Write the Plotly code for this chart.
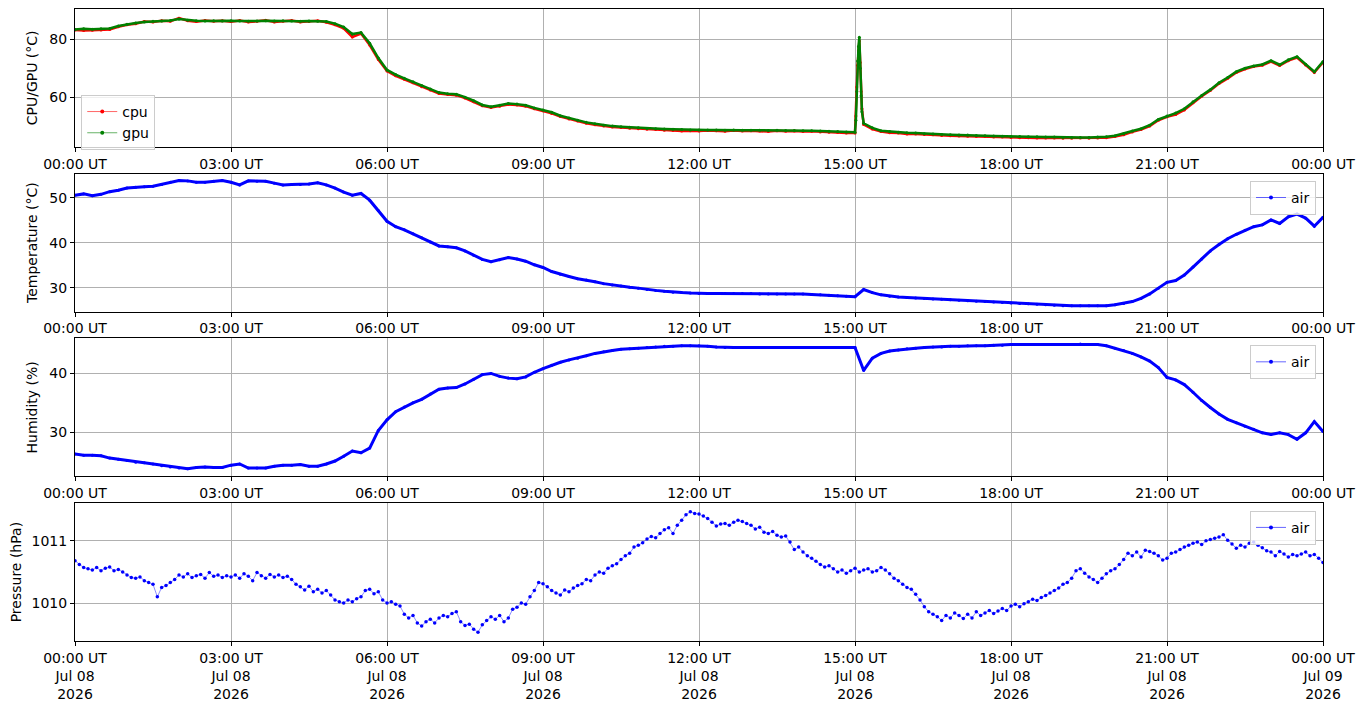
import pandas as pd
import plotly.graph_objects as go
from plotly.subplots import make_subplots

DAY = "2026-07-08"

# 10-minute readings, 00:00 .. 24:00 (one row per hour)
gpu = [
    83.4, 83.6, 83.5, 83.6, 83.7, 84.6,
    85.2, 85.6, 86.0, 86.2, 86.3, 86.5,
    87.0, 86.6, 86.4, 86.3, 86.4, 86.3,
    86.4, 86.3, 86.2, 86.3, 86.4, 86.3,
    86.4, 86.3, 86.2, 86.3, 86.2, 86.1,
    85.4, 84.2, 81.8, 82.3, 78.6, 73.5,
    69.4, 67.8, 66.5, 65.3, 64.0, 62.8,
    61.6, 61.2, 61.0, 60.0, 58.8, 57.3,
    56.7, 57.2, 57.8, 57.6, 57.2, 56.3,
    55.6, 54.8, 53.6, 52.8, 52.0, 51.3,
    50.8, 50.3, 50.0, 49.8, 49.6, 49.4,
    49.2, 49.1, 49.0, 48.9, 48.8, 48.7,
    48.7, 48.7, 48.7, 48.6, 48.7, 48.6,
    48.6, 48.6, 48.5, 48.6, 48.5, 48.5,
    48.4, 48.4, 48.3, 48.2, 48.1, 48.0,
    47.9, 51.0, 49.4, 48.4, 48.1, 47.9,
    47.7, 47.6, 47.4, 47.3, 47.1, 47.0,
    46.9, 46.9, 46.8, 46.7, 46.6, 46.5,
    46.4, 46.4, 46.3, 46.3, 46.2, 46.2,
    46.1, 46.1, 46.1, 46.1, 46.2, 46.3,
    46.7, 47.4, 48.3, 49.1, 50.3, 52.3,
    53.5, 54.5, 56.0, 58.4, 60.6, 62.6,
    65.0, 66.8, 68.8, 70.0, 70.8, 71.3,
    72.6, 71.2, 72.9, 74.0, 71.4, 68.8,
    72.3,
]
cpu = [
    83.2, 83.0, 83.1, 83.2, 83.4, 84.3,
    85.0, 85.4, 86.1, 86.0, 86.4, 86.2,
    87.3, 86.4, 86.1, 86.5, 86.2, 86.4,
    86.1, 86.5, 86.0, 86.2, 86.6, 86.0,
    86.2, 86.5, 86.0, 86.1, 86.4, 85.9,
    85.0, 83.8, 80.8, 82.0, 78.0, 73.0,
    69.0, 67.4, 66.2, 65.0, 63.6, 62.5,
    61.3, 60.9, 60.7, 59.7, 58.4, 57.0,
    56.4, 56.9, 57.5, 57.3, 56.9, 56.0,
    55.3, 54.4, 53.3, 52.5, 51.8, 51.0,
    50.5, 50.0, 49.7, 49.5, 49.3, 49.1,
    48.9, 48.8, 48.6, 48.5, 48.3, 48.4,
    48.3, 48.5, 48.4, 48.2, 48.5, 48.3,
    48.4, 48.3, 48.1, 48.4, 48.2, 48.3,
    48.1, 48.2, 48.0, 47.9, 47.8, 47.6,
    47.6, 50.6, 49.0, 48.1, 47.7, 47.6,
    47.3, 47.3, 47.1, 47.0, 46.8, 46.7,
    46.6, 46.5, 46.4, 46.4, 46.2, 46.2,
    46.1, 46.0, 46.0, 45.9, 45.9, 45.9,
    45.8, 45.8, 45.9, 45.8, 45.9, 46.0,
    46.4, 47.0, 48.0, 48.8, 50.0, 52.0,
    53.2, 54.0, 55.6, 58.1, 60.3, 62.3,
    64.7, 66.5, 68.5, 69.7, 70.6, 71.0,
    72.3, 70.9, 72.6, 73.7, 71.1, 68.5,
    72.0,
]
# short CPU/GPU spike just after 15:00 (minutes since midnight)
spike_min = [901, 902, 903, 904, 905, 906, 907, 908]
gpu_spike = [52.0, 62.0, 72.5, 77.5, 80.7, 70.0, 60.5, 55.0]
cpu_spike = [53.5, 63.5, 71.0, 76.0, 79.5, 72.0, 62.0, 56.0]

temp = [
    50.6, 50.9, 50.5, 50.8, 51.4, 51.7,
    52.2, 52.4, 52.5, 52.6, 53.0, 53.5,
    53.9, 53.8, 53.5, 53.5, 53.7, 53.9,
    53.5, 52.9, 53.8, 53.7, 53.7, 53.3,
    52.9, 53.0, 53.0, 53.1, 53.4, 52.9,
    52.2, 51.3, 50.6, 51.0, 49.5, 47.2,
    44.8, 43.6, 42.9, 42.0, 41.1, 40.2,
    39.3, 39.1, 38.9, 38.2, 37.2, 36.3,
    35.8, 36.2, 36.7, 36.4, 35.9, 35.1,
    34.5, 33.6, 33.0, 32.5, 32.0, 31.7,
    31.3, 30.9, 30.6, 30.4, 30.1, 29.9,
    29.6, 29.4, 29.2, 29.0, 28.9, 28.8,
    28.7, 28.7, 28.7, 28.7, 28.7, 28.7,
    28.7, 28.6, 28.6, 28.6, 28.6, 28.6,
    28.6, 28.5, 28.4, 28.3, 28.2, 28.1,
    28.0, 29.6, 28.9, 28.4, 28.1, 27.9,
    27.8, 27.7, 27.6, 27.5, 27.4, 27.3,
    27.2, 27.1, 27.0, 26.9, 26.8, 26.7,
    26.6, 26.5, 26.4, 26.3, 26.2, 26.1,
    26.0, 26.0, 26.0, 26.0, 26.0, 26.0,
    26.2, 26.5, 26.9, 27.6, 28.6, 29.9,
    31.2, 31.6, 32.8, 34.6, 36.4, 38.2,
    39.6, 40.9, 41.9, 42.8, 43.6, 44.0,
    45.1, 44.3, 45.8, 46.4, 45.5, 43.7,
    45.7,
]
humidity = [
    26.3, 26.1, 26.1, 26.0, 25.6, 25.4,
    25.2, 24.9, 24.8, 24.6, 24.3, 24.1,
    23.9, 23.8, 24.0, 24.1, 24.0, 24.0,
    24.4, 24.6, 23.9, 23.9, 23.9, 24.2,
    24.4, 24.4, 24.5, 24.2, 24.2, 24.6,
    25.1, 25.9, 26.8, 26.5, 27.3, 30.3,
    32.1, 33.5, 34.3, 35.0, 35.6, 36.5,
    37.3, 37.5, 37.6, 38.2, 39.0, 39.8,
    40.0, 39.5, 39.2, 39.1, 39.4, 40.2,
    40.8, 41.4, 41.9, 42.3, 42.6, 43.0,
    43.4, 43.7, 43.9, 44.1, 44.2, 44.3,
    44.4, 44.5, 44.6, 44.6, 44.7, 44.7,
    44.7, 44.6, 44.5, 44.4, 44.4, 44.4,
    44.4, 44.4, 44.4, 44.4, 44.4, 44.4,
    44.4, 44.4, 44.4, 44.4, 44.4, 44.4,
    44.4, 40.5, 42.6, 43.4, 43.8, 44.0,
    44.2, 44.3, 44.4, 44.5, 44.5, 44.6,
    44.6, 44.7, 44.7, 44.7, 44.8, 44.8,
    44.9, 44.9, 44.9, 44.9, 44.9, 44.9,
    44.9, 44.9, 45.0, 44.9, 44.9, 44.7,
    44.3, 43.9, 43.4, 42.8, 42.1, 41.0,
    39.3, 38.9, 38.1, 36.8, 35.4, 34.2,
    33.1, 32.2, 31.6, 31.0, 30.5, 29.9,
    29.6, 29.9, 29.6, 28.8, 29.9, 31.8,
    30.1,
]

# 5-minute pressure readings, 00:00 .. 24:00 (one row per hour)
pressure = [
    1010.68, 1010.62, 1010.57, 1010.55, 1010.53, 1010.57, 1010.52, 1010.56, 1010.58, 1010.52, 1010.54, 1010.50,
    1010.45, 1010.41, 1010.40, 1010.42, 1010.36, 1010.33, 1010.30, 1010.10, 1010.25, 1010.28, 1010.33, 1010.38,
    1010.45, 1010.42, 1010.47, 1010.41, 1010.44, 1010.46, 1010.40, 1010.49, 1010.43, 1010.45, 1010.41, 1010.44,
    1010.42, 1010.45, 1010.40, 1010.47, 1010.43, 1010.36, 1010.49, 1010.44, 1010.40, 1010.46, 1010.42, 1010.45,
    1010.41, 1010.43, 1010.38, 1010.30, 1010.26, 1010.21, 1010.27, 1010.18, 1010.22, 1010.16, 1010.20, 1010.13,
    1010.05, 1010.02, 1010.00, 1010.05, 1010.02, 1010.07, 1010.10, 1010.20, 1010.22, 1010.15, 1010.18, 1010.05,
    1010.00, 1010.02, 1009.98, 1009.95, 1009.82, 1009.76, 1009.80, 1009.68, 1009.63, 1009.70, 1009.74, 1009.68,
    1009.76, 1009.80, 1009.78, 1009.83, 1009.86, 1009.70, 1009.64, 1009.66, 1009.58, 1009.53, 1009.65, 1009.72,
    1009.78, 1009.74, 1009.80, 1009.70, 1009.76, 1009.90, 1009.93, 1010.00, 1009.98, 1010.10, 1010.20, 1010.33,
    1010.31, 1010.26, 1010.20, 1010.16, 1010.13, 1010.21, 1010.18, 1010.24, 1010.28, 1010.31, 1010.38, 1010.36,
    1010.45, 1010.50, 1010.48, 1010.56, 1010.60, 1010.63, 1010.70, 1010.76, 1010.80, 1010.90, 1010.93, 1010.97,
    1011.03, 1011.07, 1011.05, 1011.12, 1011.18, 1011.21, 1011.12, 1011.25, 1011.33, 1011.42, 1011.47, 1011.44,
    1011.43, 1011.40, 1011.36, 1011.30, 1011.24, 1011.27, 1011.28, 1011.25, 1011.30, 1011.33, 1011.31, 1011.28,
    1011.25, 1011.19, 1011.22, 1011.14, 1011.12, 1011.15, 1011.09, 1011.06, 1011.08, 1010.98, 1010.86, 1010.90,
    1010.82, 1010.76, 1010.72, 1010.67, 1010.62, 1010.58, 1010.60, 1010.55, 1010.50, 1010.53, 1010.48, 1010.52,
    1010.56, 1010.50, 1010.53, 1010.55, 1010.50, 1010.52, 1010.57, 1010.53, 1010.47, 1010.40, 1010.36, 1010.30,
    1010.25, 1010.22, 1010.14, 1010.05, 1009.94, 1009.86, 1009.82, 1009.78, 1009.72, 1009.80, 1009.76, 1009.84,
    1009.80, 1009.75, 1009.82, 1009.76, 1009.86, 1009.80, 1009.84, 1009.88, 1009.83, 1009.87, 1009.91, 1009.88,
    1009.95, 1009.98, 1009.94, 1009.99, 1010.02, 1010.06, 1010.04, 1010.09, 1010.12, 1010.16, 1010.20, 1010.24,
    1010.30, 1010.33, 1010.40, 1010.52, 1010.55, 1010.48, 1010.42, 1010.38, 1010.33, 1010.40, 1010.47, 1010.52,
    1010.55, 1010.62, 1010.70, 1010.80, 1010.76, 1010.82, 1010.74, 1010.85, 1010.83, 1010.80, 1010.76, 1010.69,
    1010.72, 1010.80, 1010.82, 1010.86, 1010.90, 1010.93, 1010.96, 1010.98, 1010.94, 1011.00, 1011.02, 1011.04,
    1011.06, 1011.10, 1011.01, 1010.95, 1010.88, 1010.93, 1010.90, 1010.96, 1010.98, 1010.93, 1010.89, 1010.84,
    1010.82, 1010.76, 1010.83, 1010.79, 1010.74, 1010.78, 1010.76, 1010.79, 1010.82, 1010.76, 1010.78, 1010.72,
    1010.65,
]

tick_hours = [0, 3, 6, 9, 12, 15, 18, 21, 24]
tick_times = ["00:00 UT", "03:00 UT", "06:00 UT", "09:00 UT", "12:00 UT",
              "15:00 UT", "18:00 UT", "21:00 UT", "00:00 UT"]
tick_dates = ["Jul 08", "Jul 08", "Jul 08", "Jul 08", "Jul 08",
              "Jul 08", "Jul 08", "Jul 08", "Jul 09"]
tick_year = "2026"

start = pd.Timestamp(DAY)
t10 = pd.date_range(start, periods=len(gpu), freq="10min")
t5 = pd.date_range(start, periods=len(pressure), freq="5min")
t_spike = start + pd.to_timedelta(spike_min, unit="min")

gpu_s = pd.concat([pd.Series(gpu, index=t10), pd.Series(gpu_spike, index=t_spike)]).sort_index()
cpu_s = pd.concat([pd.Series(cpu, index=t10), pd.Series(cpu_spike, index=t_spike)]).sort_index()

tickvals = [start + pd.Timedelta(hours=h) for h in tick_hours]
xrange_ = [tickvals[0], tickvals[-1]]

RED = "#ff0000"
GREEN = "#008000"
BLUE = "#0000ff"
FONT = "DejaVu Sans"
FS = 14

fig = make_subplots(rows=4, cols=1, vertical_spacing=0.0427)


def data_trace(x, y, color, width, size):
    return go.Scatter(x=x, y=y, mode="lines+markers", showlegend=False,
                      line=dict(color=color, width=width),
                      marker=dict(color=color, size=size), hoverinfo="x+y")


def legend_trace(name, color, legend):
    # faint thin line with a small dot, like the legend handles of the source
    r, g, b = int(color[1:3], 16), int(color[3:5], 16), int(color[5:7], 16)
    return go.Scatter(x=[None], y=[None], mode="lines+markers", name=name, legend=legend,
                      line=dict(color=f"rgba({r},{g},{b},0.6)", width=1),
                      marker=dict(color=color, size=4))


fig.add_trace(data_trace(cpu_s.index, cpu_s.values, RED, 2.5, 3), row=1, col=1)
fig.add_trace(data_trace(gpu_s.index, gpu_s.values, GREEN, 2.5, 3), row=1, col=1)
fig.add_trace(legend_trace("cpu", RED, "legend"), row=1, col=1)
fig.add_trace(legend_trace("gpu", GREEN, "legend"), row=1, col=1)

fig.add_trace(data_trace(t10, temp, BLUE, 3, 3), row=2, col=1)
fig.add_trace(legend_trace("air", BLUE, "legend2"), row=2, col=1)

fig.add_trace(data_trace(t10, humidity, BLUE, 3, 3), row=3, col=1)
fig.add_trace(legend_trace("air", BLUE, "legend3"), row=3, col=1)

p_line = "rgba(0,0,255,0.45)"
fig.add_trace(go.Scatter(x=t5, y=pressure, mode="lines+markers", showlegend=False,
                         line=dict(color=p_line, width=1),
                         marker=dict(color=BLUE, size=3.5)), row=4, col=1)
fig.add_trace(legend_trace("air", BLUE, "legend4"), row=4, col=1)

y_titles = ["CPU/GPU (°C)", "Temperature (°C)", "Humidity (%)", "Pressure (hPa)"]
y_ranges = [[42.87, 90.46], [24.69, 55.39], [22.51, 45.94], [1009.389, 1011.605]]
y_dticks = [20, 10, 10, 1]

axis_style = dict(showline=True, linecolor="black", linewidth=1, mirror=True,
                  ticks="outside", ticklen=4, tickcolor="black",
                  showgrid=True, gridcolor="#b0b0b0", gridwidth=1, zeroline=False,
                  tickfont=dict(size=FS, color="black"))

for i in range(4):
    row = i + 1
    if row < 4:
        text = tick_times
    else:
        text = [f"{t}<br>{d}<br>{tick_year}" for t, d in zip(tick_times, tick_dates)]
    fig.update_xaxes(range=xrange_, tickvals=tickvals, ticktext=text, row=row, col=1, **axis_style)
    fig.update_yaxes(range=y_ranges[i], dtick=y_dticks[i], row=row, col=1,
                     title=dict(text=y_titles[i], font=dict(size=FS), standoff=8), **axis_style)

legend_style = dict(bgcolor="rgba(255,255,255,0.8)", bordercolor="#cccccc", borderwidth=1,
                    font=dict(size=FS, color="black"), tracegroupgap=0)

# the page body keeps its default 8px margin, so the figure is sized and
# padded to land the axes where the source has them in the window
fig.update_layout(
    width=1356, height=699,
    margin=dict(l=67, r=41, t=1, b=66),
    plot_bgcolor="white", paper_bgcolor="white",
    font=dict(family=FONT, size=FS, color="black"),
    legend=dict(x=0.005, y=0.864, xanchor="left", yanchor="top", **legend_style),
    legend2=dict(x=0.9944, y=0.728, xanchor="right", yanchor="top", **legend_style),
    legend3=dict(x=0.9944, y=0.468, xanchor="right", yanchor="top", **legend_style),
    legend4=dict(x=0.9944, y=0.206, xanchor="right", yanchor="top", **legend_style),
)

fig.write_html("out.html")
